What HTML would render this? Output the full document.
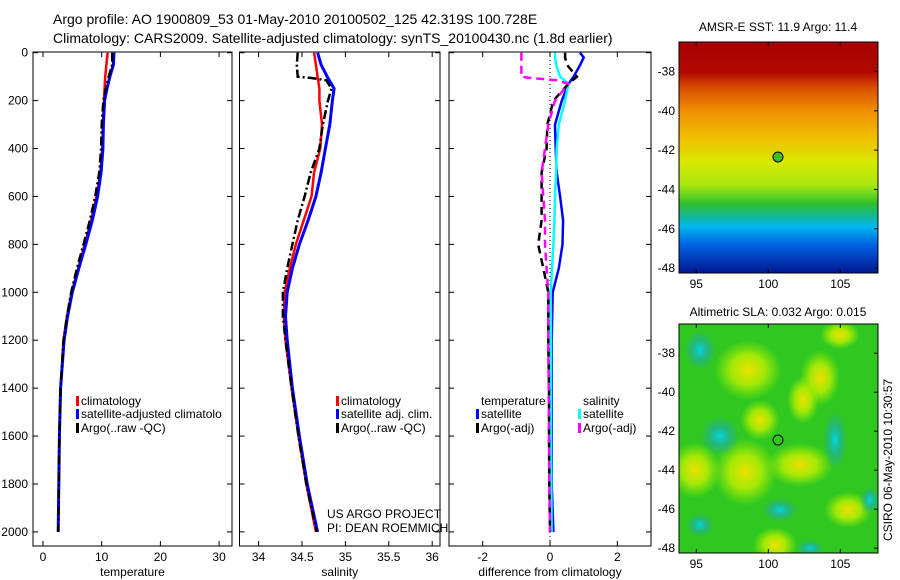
<!DOCTYPE html>
<html><head><meta charset="utf-8"><style>
body{margin:0;background:#fff;}
svg{display:block;font-family:"Liberation Sans",sans-serif;}
</style></head><body>
<svg id="c" width="900" height="580" viewBox="0 0 900 580" xmlns="http://www.w3.org/2000/svg">
<defs>
<linearGradient id="sstg" x1="0" y1="0" x2="0" y2="1">
<stop offset="0" stop-color="#a80000"/><stop offset="0.13" stop-color="#b00800"/>
<stop offset="0.2" stop-color="#d85000"/><stop offset="0.3" stop-color="#f09000"/>
<stop offset="0.42" stop-color="#f0c000"/><stop offset="0.52" stop-color="#d8e800"/>
<stop offset="0.62" stop-color="#a8e810"/><stop offset="0.7" stop-color="#30c030"/>
<stop offset="0.76" stop-color="#10b8a0"/><stop offset="0.8" stop-color="#00b8f0"/>
<stop offset="0.88" stop-color="#0060e0"/><stop offset="1" stop-color="#001890"/></linearGradient>
<radialGradient id="yb"><stop offset="0" stop-color="#f0e000"/><stop offset="0.5" stop-color="#c0f000" stop-opacity="0.8"/><stop offset="1" stop-color="#a0f000" stop-opacity="0"/></radialGradient>
<radialGradient id="cb"><stop offset="0" stop-color="#00d8e0"/><stop offset="0.5" stop-color="#20b0a0" stop-opacity="0.7"/><stop offset="1" stop-color="#20b090" stop-opacity="0"/></radialGradient>
<clipPath id="m2clip"><rect x="679" y="324" width="199" height="229"/></clipPath>
</defs>
<text x="53" y="24" font-size="14">Argo profile: AO 1900809_53 01-May-2010 20100502_125 42.319S 100.728E</text>
<text x="53" y="43" font-size="14">Climatology: CARS2009. Satellite-adjusted climatology: synTS_20100430.nc (1.8d earlier)</text>
<g id="plots"></g>
<g id="maps">
<rect x="679" y="42" width="199" height="231" fill="url(#sstg)"/>
<rect x="679" y="42" width="199" height="231" fill="none" stroke="#000"/>
<circle cx="778" cy="157" r="5" fill="#40c020" stroke="#000"/>
<text x="778" y="31" font-size="12" text-anchor="middle">AMSR-E SST: 11.9 Argo: 11.4</text>
<g clip-path="url(#m2clip)">
<rect x="679" y="324" width="199" height="229" fill="#30c820"/>
<ellipse cx="748" cy="370" rx="34" ry="30" fill="url(#yb)"/>
<ellipse cx="820" cy="378" rx="20" ry="28" fill="url(#yb)"/>
<ellipse cx="803" cy="400" rx="16" ry="24" fill="url(#yb)"/>
<ellipse cx="745" cy="472" rx="32" ry="34" fill="url(#yb)"/>
<ellipse cx="800" cy="465" rx="34" ry="22" fill="url(#yb)"/>
<ellipse cx="695" cy="470" rx="26" ry="28" fill="url(#yb)"/>
<ellipse cx="775" cy="545" rx="22" ry="18" fill="url(#yb)"/>
<ellipse cx="848" cy="510" rx="24" ry="18" fill="url(#yb)"/>
<ellipse cx="840" cy="335" rx="20" ry="14" fill="url(#yb)"/>
<ellipse cx="760" cy="420" rx="20" ry="20" fill="url(#yb)"/>
<ellipse cx="720" cy="436" rx="20" ry="20" fill="url(#cb)"/>
<ellipse cx="700" cy="350" rx="16" ry="20" fill="url(#cb)"/>
<ellipse cx="780" cy="510" rx="18" ry="12" fill="url(#cb)"/>
<ellipse cx="835" cy="440" rx="12" ry="30" fill="url(#cb)"/>
<ellipse cx="870" cy="500" rx="10" ry="14" fill="url(#cb)"/>
<ellipse cx="700" cy="525" rx="14" ry="12" fill="url(#cb)"/>
<ellipse cx="810" cy="548" rx="14" ry="8" fill="url(#cb)"/>
</g>
<rect x="679" y="324" width="199" height="229" fill="none" stroke="#000"/>
<circle cx="778" cy="440" r="5" fill="none" stroke="#000"/>
<text x="778" y="316" font-size="12" text-anchor="middle">Altimetric SLA: 0.032 Argo: 0.015</text>
<text transform="translate(892,460) rotate(-90)" font-size="12" text-anchor="middle">CSIRO 06-May-2010 10:30:57</text>
</g>
<g id="mapaxes"></g>
<text x="327" y="518" font-size="12">US ARGO PROJECT</text>
<text x="327" y="532" font-size="12">PI: DEAN ROEMMICH</text>
</svg>
<script>
// ---- data ----
const depthStd = [0,50,100,150,200,300,400,500,600,700,800,900,1000,1100,1200,1400,1600,1800,2000];
const tempClim = [11.0,10.8,10.6,10.5,10.4,10.2,10.1,9.8,9.1,8.2,7.1,6.0,4.9,4.1,3.5,3.0,2.8,2.7,2.6];
const tempSat  = [12.1,12.0,11.4,10.9,10.5,10.3,10.2,9.9,9.3,8.4,7.3,6.1,5.0,4.2,3.6,3.0,2.8,2.7,2.6];
const tempArgo = [11.8,11.8,11.2,10.7,10.3,10.0,9.9,9.6,8.9,8.0,6.9,5.8,4.8,4.1,3.5,3.0,2.8,2.7,2.6];
const salClim  = [34.64,34.66,34.68,34.70,34.70,34.73,34.71,34.64,34.61,34.52,34.43,34.36,34.30,34.29,34.31,34.38,34.46,34.55,34.66];
const salSat   = [34.68,34.72,34.79,34.87,34.85,34.82,34.77,34.72,34.66,34.57,34.47,34.39,34.33,34.31,34.33,34.39,34.47,34.56,34.68];
const depthArgoSal = [0,50,100,105,115,150,200,300,400,500,600,700,800,900,1000,1100,1200,1400,1600,1800,2000];
const salArgo  = [34.45,34.44,34.45,34.60,34.78,34.84,34.80,34.74,34.70,34.60,34.53,34.45,34.39,34.33,34.28,34.28,34.31,34.38,34.46,34.55,34.67];
const depthDiff = [0,20,50,100,130,200,300,400,500,600,700,800,900,1000,1200,1400,1600,1800,2000];
const diffTempSat  = [0.89,1.0,0.9,0.7,0.55,0.35,0.15,0.17,0.2,0.3,0.39,0.37,0.26,0.08,0.05,0.05,0.05,0.05,0.1];
const diffSalSat   = [0.15,0.15,0.18,0.3,0.55,0.45,0.26,0.2,0.18,0.15,0.13,0.1,0.06,0.02,0.03,0.03,0.03,0.04,0.05];
const diffTempArgo = [0.45,0.45,0.5,0.8,0.55,0.1,-0.08,-0.1,-0.25,-0.25,-0.25,-0.35,-0.2,-0.05,-0.05,-0.03,-0.03,-0.02,0.0];
const depthDiffSalArgo = [0,60,100,105,115,130,200,300,400,500,600,700,800,900,1000,1200,1400,1600,1800,2000];
const diffSalArgo  = [-0.85,-0.85,-0.85,-0.6,0.2,0.55,0.15,-0.05,-0.15,-0.25,-0.2,-0.15,-0.15,-0.1,-0.05,-0.05,-0.04,-0.03,-0.02,0.0];
const depthTicks = [0,200,400,600,800,1000,1200,1400,1600,1800,2000];
const tempTicks = [0,10,20,30];
const salTicks = [34,34.5,35,35.5,36];
const diffTicks = [-2,0,2];
const latTicks = [-38,-40,-42,-44,-46,-48];
const lonTicks = [95,100,105];

const NS='http://www.w3.org/2000/svg';
const root=document.getElementById('plots');
function mk(tag,attrs,parent){const e=document.createElementNS(NS,tag);for(const k in attrs)e.setAttribute(k,attrs[k]);(parent||root).appendChild(e);return e;}
const yTop=52,yBot=546;
function yS(d){return 52.7+d*0.2396;}

function panel(name,x0,x1,xmin,xmax,ticks,label,showY){
  const g=mk('g',{});
  
  
  const xs=v=>x0+(v-xmin)/(xmax-xmin)*(x1-x0);
  const fr=mk('rect',{x:x0,y:yTop,width:x1-x0,height:yBot-yTop,fill:'none',stroke:'#000','stroke-width':1},g);
  
  
  ticks.forEach(t=>{
    const x=xs(t);
    mk('line',{x1:x,x2:x,y1:yBot,y2:yBot-5,stroke:'#000'},g);
    mk('line',{x1:x,x2:x,y1:yTop,y2:yTop+5,stroke:'#000'},g);
    const tx=mk('text',{x:x,y:yBot+15,'font-size':12,'text-anchor':'middle'},g);
    tx.textContent=t;
    
    
  });
  depthTicks.forEach(d=>{
    const y=yS(d);
    mk('line',{x1:x0,x2:x0+5,y1:y,y2:y,stroke:'#000'},g);
    mk('line',{x1:x1,x2:x1-5,y1:y,y2:y,stroke:'#000'},g);
    if(showY){
      const tx=mk('text',{x:28,y:y+4,'font-size':12,'text-anchor':'end'},g);
      tx.textContent=d;
      
      
    }
  });
  const lb=mk('text',{x:(x0+x1)/2,y:576,'font-size':12,'text-anchor':'middle'},g);
  lb.textContent=label;
  
  
  return {g,xs};
}
function series(p,name,vals,deps,color,w,dash){
  const pts=vals.map((v,i)=>p.xs(v).toFixed(1)+','+yS(deps[i]).toFixed(1)).join(' ');
  const pl=mk('polyline',{points:pts,fill:'none',stroke:color,'stroke-width':w,'stroke-dasharray':dash||'none'},p.g);
  
  
}
function legend(g,x,y,color,text,name){
  mk('rect',{x:x-5,y:y-9,width:3,height:10,fill:color},g);
  const t=mk('text',{x:x,y:y,'font-size':12},g);
  t.textContent=text;
  
  
}
const dd='9,3,2,3';
// temperature
const p1=panel('temperature',33,232,-1.7,32.2,tempTicks,'temperature',true);
series(p1,'temp-climatology-line',tempClim,depthStd,'#f00',2.5);
series(p1,'temp-satellite-line',tempSat,depthStd,'#00f',3);
series(p1,'temp-argo-line',tempArgo,depthStd,'#000',2.5,dd);
legend(p1.g,81,405,'#f00','climatology','legend-climatology');
legend(p1.g,81,418,'#00f','satellite-adjusted climatolo','legend-satellite');
legend(p1.g,81,432,'#000','Argo(..raw -QC)','legend-argo');
// salinity
const p2=panel('salinity',239.5,440,33.78,36.09,salTicks,'salinity',false);
series(p2,'sal-climatology-line',salClim,depthStd,'#f00',2.5);
series(p2,'sal-satellite-line',salSat,depthStd,'#00f',3);
series(p2,'sal-argo-line',salArgo,depthArgoSal,'#000',2.5,dd);
legend(p2.g,341,405,'#f00','climatology','legend-sal-climatology');
legend(p2.g,341,418,'#00f','satellite adj. clim.','legend-sal-satellite');
legend(p2.g,341,432,'#000','Argo(..raw -QC)','legend-sal-argo');
// difference
const p3=panel('difference',449,651,-3,3,diffTicks,'difference from climatology',false);
mk('line',{x1:p3.xs(0),x2:p3.xs(0),y1:yTop,y2:yBot,stroke:'#000','stroke-dasharray':'1,3'},p3.g);
series(p3,'diff-temp-satellite-line',diffTempSat,depthDiff,'#00f',2.5);
series(p3,'diff-sal-satellite-line',diffSalSat,depthDiff,'#0ff',2.5);
series(p3,'diff-temp-argo-line',diffTempArgo,depthDiff,'#000',2.5,'8,5');
series(p3,'diff-sal-argo-line',diffSalArgo,depthDiffSalArgo,'#f0f',2.5,'8,5');
const lt=mk('text',{x:481,y:405,'font-size':12},p3.g);lt.textContent='temperature';


const ls=mk('text',{x:583,y:405,'font-size':12},p3.g);ls.textContent='salinity';


legend(p3.g,481,418,'#00f','satellite','legend-diff-temp-satellite');
legend(p3.g,481,432,'#000','Argo(-adj)','legend-diff-temp-argo');
legend(p3.g,583,418,'#0ff','satellite','legend-diff-sal-satellite');
legend(p3.g,583,432,'#f0f','Argo(-adj)','legend-diff-sal-argo');
// map axes
const ma=document.getElementById('mapaxes');
[[42,273],[324,553]].forEach(([t,b],mi)=>{
  latTicks.forEach(la=>{
    const y=t+(-36.5-la)/(-36.5+48.25)*(b-t);
    mk('line',{x1:874,x2:878,y1:y,y2:y,stroke:'#000'},ma);
    const tx=mk('text',{x:675,y:y+4,'font-size':12,'text-anchor':'end'},ma);
    tx.textContent=la;
    
    
  });
  lonTicks.forEach(lo=>{
    const x=768.3+(lo-100)*14.4;
    mk('line',{x1:x,x2:x,y1:b,y2:b-4,stroke:'#000'},ma);
    mk('line',{x1:x,x2:x,y1:t,y2:t+4,stroke:'#000'},ma);
    const tx=mk('text',{x:x,y:b+15,'font-size':12,'text-anchor':'middle'},ma);
    tx.textContent=lo;
    
    
  });
});
</script>
</body></html>
